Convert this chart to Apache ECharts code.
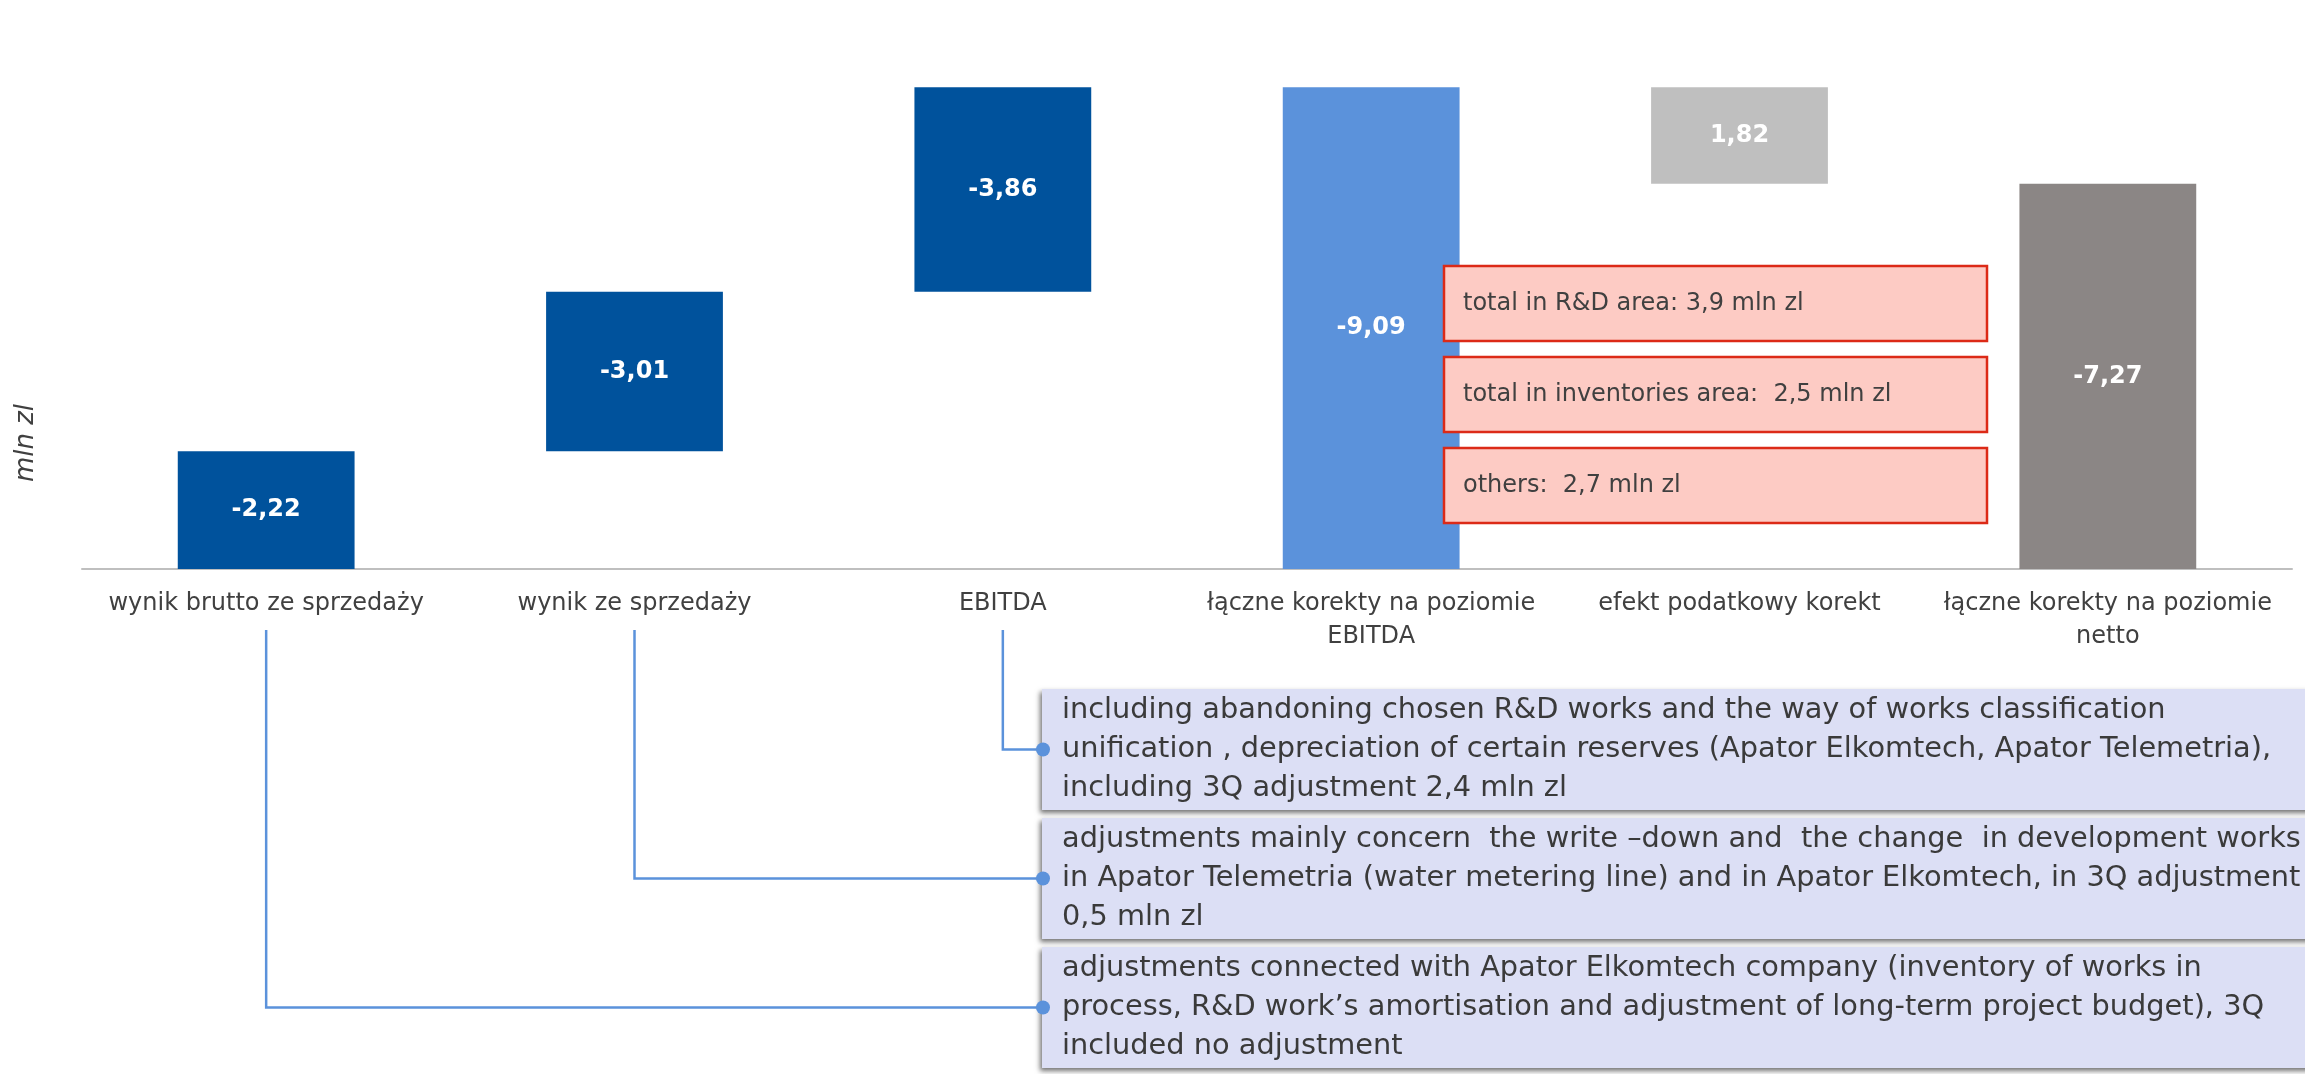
<!DOCTYPE html>
<html>
<head>
<meta charset="utf-8">
<script src="https://cdn.jsdelivr.net/npm/echarts@6/dist/echarts.min.js"></script>
<style>
html,body{margin:0;padding:0;background:#fff;}
#chart{width:2305px;height:1074px;}
</style>
</head>
<body>
<div id="chart"></div>
<script>
// ---- data ----
const categories = [
  'wynik brutto ze sprzedaży',
  'wynik ze sprzedaży',
  'EBITDA',
  'łączne korekty na poziomie\nEBITDA',
  'efekt podatkowy korekt',
  'łączne korekty na poziomie\nnetto'
];
const values = [-2.22, -3.01, -3.86, -9.09, 1.82, -7.27];
const isTotal = [false, false, false, true, false, true];
const barColors = ['#00529C', '#00529C', '#00529C', '#5B92DB', '#BFBFBF', '#8B8685'];
const axisName = 'mln zl';
const breakdownNotes = [
  'total in R&D area: 3,9 mln zl',
  'total in inventories area:  2,5 mln zl',
  'others:  2,7 mln zl'
];
const commentNotes = [
  'including abandoning chosen R&D works and the way of works classification\nunification , depreciation of certain reserves (Apator Elkomtech, Apator Telemetria),\nincluding 3Q adjustment 2,4 mln zl',
  'adjustments mainly concern  the write –down and  the change  in development works\nin Apator Telemetria (water metering line) and in Apator Elkomtech, in 3Q adjustment\n0,5 mln zl',
  'adjustments connected with Apator Elkomtech company (inventory of works in\nprocess, R&D work’s amortisation and adjustment of long-term project budget), 3Q\nincluded no adjustment'
];
const commentTargets = [2, 1, 0];

// ---- waterfall build (magnitudes plotted upward) ----
const baseData = [], barData = [];
let run = 0;
values.forEach((v, i) => {
  if (isTotal[i]) { baseData.push(0); barData.push(Math.abs(v)); }
  else if (v < 0) { baseData.push(+run.toFixed(2)); barData.push(-v); run += -v; }
  else { run -= v; baseData.push(+run.toFixed(2)); barData.push(v); }
});
const fmt = v => v.toFixed(2).replace('.', ',');

const FONT = 'DejaVu Sans';
const chart = echarts.init(document.getElementById('chart'));
chart.setOption({
  animation: false,
  backgroundColor: '#ffffff',
  grid: { left: 82, right: 13, top: 39, bottom: 505, containLabel: false },
  xAxis: {
    type: 'category',
    data: categories,
    axisLine: { lineStyle: { color: '#BFBFBF', width: 2 } },
    axisTick: { show: false },
    axisLabel: { interval: 0, color: '#404040', fontFamily: FONT, fontSize: 24, lineHeight: 33, margin: 18 }
  },
  yAxis: { type: 'value', min: 0, max: 10, show: false },
  series: [
    { type: 'bar', stack: 'wf', data: baseData, barWidth: '48%', itemStyle: { color: 'rgba(0,0,0,0)' }, silent: true },
    {
      type: 'bar', stack: 'wf', barWidth: '48%',
      data: barData.map((d, i) => ({ value: d, itemStyle: { color: barColors[i] } })),
      label: {
        show: true, position: 'inside', color: '#ffffff', fontWeight: 'bold', fontFamily: FONT, fontSize: 24,
        formatter: p => fmt(values[p.dataIndex])
      }
    }
  ]
});

// ---- annotations ----
const g = [];
g.push({ type: 'text', x: 26, y: 443, rotation: Math.PI / 2, style: { text: axisName, fontFamily: FONT, fontStyle: 'italic', fontSize: 26, fill: '#404040', align: 'center', verticalAlign: 'middle' } });

const redTops = [266, 357, 448];
breakdownNotes.forEach((t, i) => {
  g.push({ type: 'rect', shape: { x: 1444, y: redTops[i], width: 543, height: 75 }, style: { fill: '#FDCBC4', stroke: '#DC2A17', lineWidth: 2.5 }, z: 10 });
  g.push({ type: 'text', x: 1463, y: redTops[i] + 38, style: { text: t, fontFamily: FONT, fontSize: 24, fill: '#404040', verticalAlign: 'middle' }, z: 11 });
});

const boxTops = [689, 818, 947];
const boxH = 121, boxX = 1042;
commentNotes.forEach((t, i) => {
  const cy = boxTops[i] + boxH / 2;
  const cx = chart.convertToPixel({ xAxisIndex: 0 }, categories[commentTargets[i]]);
  g.push({ type: 'polyline', shape: { points: [[cx, 630], [cx, cy], [boxX, cy]] }, style: { stroke: '#5B92DB', lineWidth: 2.5, fill: null }, z: 9 });
  g.push({ type: 'rect', shape: { x: boxX, y: boxTops[i], width: 1300, height: boxH }, style: { fill: '#DCDFF5', shadowBlur: 5, shadowOffsetX: -2, shadowOffsetY: 3, shadowColor: 'rgba(0,0,0,0.55)' }, z: 10 });
  g.push({ type: 'circle', shape: { cx: boxX + 1, cy: cy, r: 7 }, style: { fill: '#5B92DB' }, z: 12 });
  g.push({ type: 'text', x: 1062, y: cy, style: { text: t, fontFamily: FONT, fontSize: 28.8, lineHeight: 39, fill: '#3A3A3A', verticalAlign: 'middle' }, z: 11 });
});
chart.setOption({ graphic: g });
</script>
</body>
</html>
